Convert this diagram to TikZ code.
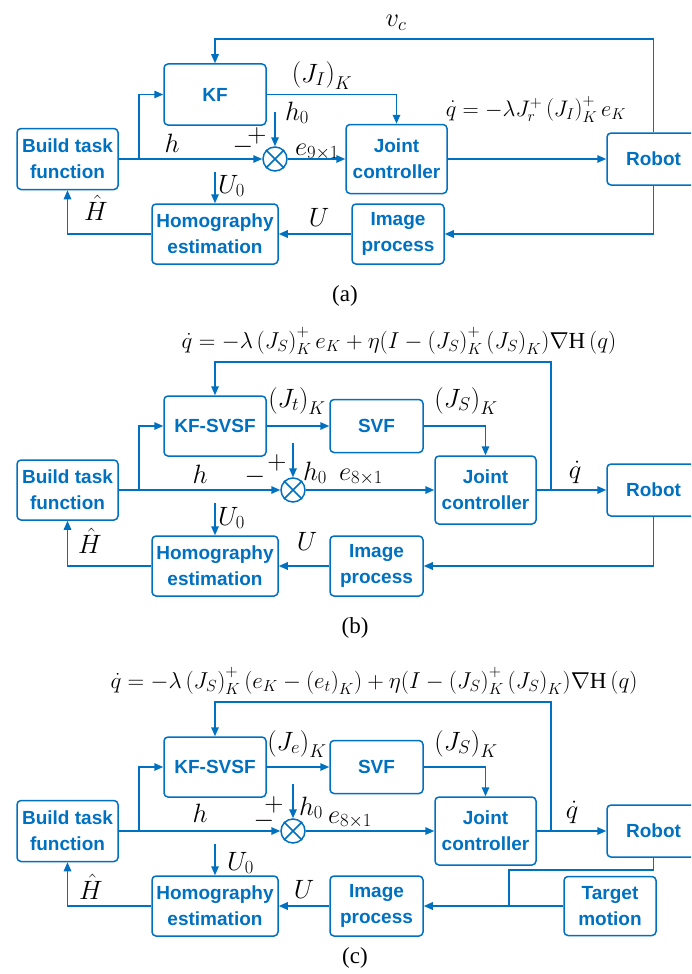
\RequirePackage{fix-cm}
\documentclass[tikz,border=0pt]{standalone}
\usepackage{fontspec}
\setmainfont{Liberation Serif}
\newfontfamily\boxfont{Liberation Sans}
\usetikzlibrary{arrows.meta}
\definecolor{myblue}{RGB}{0,112,192}
\tikzset{
  wire/.style={draw=myblue, line width=1.5pt},
  arr/.style={wire, -{Triangle[length=9pt,width=7.5pt]}},
  blk/.style={draw=myblue, line width=1.5pt, rounded corners=4pt, text=myblue,
    font=\boxfont\bfseries\fontsize{19}{26}\selectfont, align=center, inner sep=0pt},
  sumnode/.style={circle, draw=myblue, line width=1.5pt, minimum size=24pt, inner sep=0pt},
  lab/.style={inner sep=0pt, font=\fontsize{26.5}{30}\selectfont},
  formula/.style={inner sep=0pt, font=\fontsize{23}{26}\selectfont},
  formulaa/.style={inner sep=0pt, font=\fontsize{22.5}{26}\selectfont},
  captext/.style={inner sep=0pt, font=\fontsize{23}{26}\selectfont}
}
\begin{document}
\begin{tikzpicture}[x=1pt,y=-1pt]
\useasboundingbox (0,0) rectangle (691,974);
\clip (0,0) rectangle (691,974);
% ================= (a) =================
\node[blk, minimum width=101pt, minimum height=61pt] (aB) at (67.5,159) {Build task\\function};
\node[blk, minimum width=102pt, minimum height=61pt] (aKF) at (215,94.5) {KF};
\node[blk, minimum width=101pt, minimum height=69pt] (aJ) at (396.5,159) {Joint\\controller};
\node[blk, minimum width=93pt, minimum height=52pt] (aR) at (653.5,159) {Robot};
\node[blk, minimum width=126pt, minimum height=60pt] (aH) at (215,234) {Homography\\estimation};
\node[blk, minimum width=92pt, minimum height=60pt] (aI) at (398,234) {Image\\process};
\node[sumnode] (aS) at (275,159) {};
\draw[wire] (aS.north east) -- (aS.south west) (aS.north west) -- (aS.south east);
\coordinate (aBr) at (139,159);
\coordinate (aTop) at (653.5,39);
\coordinate (aH0s) at (275,112);
\coordinate (aU0s) at (215,172);
\draw[arr] (aB.east) -- (aS.west);
\draw[arr] (aBr) |- (aKF.west);
\draw[arr] (aKF.east) -| (aJ.north);
\draw[arr] (aS.east) -- (aJ.west);
\draw[arr] (aJ.east) -- (aR.west);
\draw[arr] (aR.north) -- (aTop) -| (aKF.north);
\draw[arr] (aR.south) |- (aI.east);
\draw[arr] (aI.west) -- (aH.east);
\draw[arr] (aH.west) -| (aB.south);
\draw[arr] (aH0s) -- (aS.north);
\draw[arr] (aU0s) -- (aH.north);
\node[lab, anchor=base] (aVc) at (396,27) {$v_c$};
\node[lab, anchor=base] (aJI) at (322,82) {$\left(J_I\right)_K$};
\node[lab, anchor=base] (aH0) at (297,120) {$h_0$};
\node[lab, anchor=center] (aPl) at (257,136) {$+$};
\node[lab, anchor=center] (aMi) at (243,147) {$-$};
\node[lab, anchor=base] (ah) at (172,152) {$h$};
\node[lab, anchor=base] (ae) at (317,155) {$e_{9\times 1}$};
\node[formulaa, anchor=base] (aF) at (536,116) {$\dot q=-\lambda J_r^{+}\left(J_I\right)_K^{+}e_K$};
\node[lab, anchor=base west] (aU0) at (218,193) {$U_0$};
\node[lab, anchor=base] (aHh) at (96,220) {$\hat H$};
\node[lab, anchor=base] (aU) at (319,226) {$U$};
\node[captext] (aCap) at (345,296) {(a)};
% ================= (b) =================
\node[blk, minimum width=101pt, minimum height=60pt] (bB) at (67.5,490) {Build task\\function};
\node[blk, minimum width=102pt, minimum height=60pt] (bKF) at (215,426) {KF-SVSF};
\node[blk, minimum width=93pt, minimum height=53pt] (bSVF) at (376.5,426) {SVF};
\node[blk, minimum width=101pt, minimum height=68pt] (bJ) at (485.5,490) {Joint\\controller};
\node[blk, minimum width=93pt, minimum height=52pt] (bR) at (653.5,490) {Robot};
\node[blk, minimum width=126pt, minimum height=60pt] (bH) at (215,566) {Homography\\estimation};
\node[blk, minimum width=93pt, minimum height=60pt] (bI) at (376.5,566) {Image\\process};
\node[sumnode] (bS) at (293,490) {};
\draw[wire] (bS.north east) -- (bS.south west) (bS.north west) -- (bS.south east);
\coordinate (bBr) at (139,490);
\coordinate (bBr2) at (551,490);
\coordinate (bTop) at (551,362);
\coordinate (bH0s) at (293,443);
\coordinate (bU0s) at (215,503);
\draw[arr] (bB.east) -- (bS.west);
\draw[arr] (bBr) |- (bKF.west);
\draw[arr] (bKF.east) -- (bSVF.west);
\draw[arr] (bSVF.east) -| (bJ.north);
\draw[arr] (bS.east) -- (bJ.west);
\draw[arr] (bJ.east) -- (bR.west);
\draw[arr] (bBr2) -- (bTop) -| (bKF.north);
\draw[arr] (bR.south) |- (bI.east);
\draw[arr] (bI.west) -- (bH.east);
\draw[arr] (bH.west) -| (bB.south);
\draw[arr] (bH0s) -- (bS.north);
\draw[arr] (bU0s) -- (bH.north);
\node[formula, anchor=base] (bF) at (399,348) {$\dot q=-\lambda\left(J_S\right)_K^{+}e_K+\eta(I-\left(J_S\right)_K^{+}\left(J_S\right)_K)\nabla\mathrm{H}\left(q\right)$};
\node[lab, anchor=base] (bJt) at (297,407) {$\left(J_t\right)_K$};
\node[lab, anchor=base] (bJS) at (466,407) {$\left(J_S\right)_K$};
\node[lab, anchor=base] (bqd) at (575,478) {$\dot q$};
\node[lab, anchor=base] (bh) at (200,483) {$h$};
\node[lab, anchor=center] (bMi) at (255,477) {$-$};
\node[lab, anchor=center] (bPl) at (277,463) {$+$};
\node[lab, anchor=base] (bH0) at (315,480) {$h_0$};
\node[lab, anchor=base] (be) at (361,480) {$e_{8\times 1}$};
\node[lab, anchor=base west] (bU0) at (218,525) {$U_0$};
\node[lab, anchor=base] (bHh) at (90,553) {$\hat H$};
\node[lab, anchor=base] (bU) at (307,550) {$U$};
\node[captext] (bCap) at (355,628) {(b)};
% ================= (c) =================
\node[blk, minimum width=101pt, minimum height=61pt] (cB) at (67.5,831) {Build task\\function};
\node[blk, minimum width=102pt, minimum height=60pt] (cKF) at (215,767) {KF-SVSF};
\node[blk, minimum width=93pt, minimum height=53pt] (cSVF) at (376.5,767) {SVF};
\node[blk, minimum width=101pt, minimum height=68pt] (cJ) at (485.5,831) {Joint\\controller};
\node[blk, minimum width=93pt, minimum height=52pt] (cR) at (653.5,831) {Robot};
\node[blk, minimum width=126pt, minimum height=60pt] (cH) at (215,906) {Homography\\estimation};
\node[blk, minimum width=93pt, minimum height=60pt] (cI) at (376.5,906) {Image\\process};
\node[blk, minimum width=92pt, minimum height=59pt] (cT) at (610,906) {Target\\motion};
\node[sumnode] (cS) at (293,831) {};
\draw[wire] (cS.north east) -- (cS.south west) (cS.north west) -- (cS.south east);
\coordinate (cBr) at (139,831);
\coordinate (cBr2) at (551,831);
\coordinate (cTop) at (551,702);
\coordinate (cH0s) at (293,784);
\coordinate (cU0s) at (215,844);
\coordinate (cRb) at (509,870);
\coordinate (cJn) at (509,906);
\draw[arr] (cB.east) -- (cS.west);
\draw[arr] (cBr) |- (cKF.west);
\draw[arr] (cKF.east) -- (cSVF.west);
\draw[arr] (cSVF.east) -| (cJ.north);
\draw[arr] (cS.east) -- (cJ.west);
\draw[arr] (cJ.east) -- (cR.west);
\draw[arr] (cBr2) -- (cTop) -| (cKF.north);
\draw[arr] (cR.south) |- (cRb) -- (cJn) -- (cI.east);
\draw[wire] (cT.west) -- (cJn);
\draw[arr] (cI.west) -- (cH.east);
\draw[arr] (cH.west) -| (cB.south);
\draw[arr] (cH0s) -- (cS.north);
\draw[arr] (cU0s) -- (cH.north);
\node[formula, anchor=base] (cF) at (374,688) {$\dot q=-\lambda\left(J_S\right)_K^{+}\left(e_K-\left(e_t\right)_K\right)+\eta(I-\left(J_S\right)_K^{+}\left(J_S\right)_K)\nabla\mathrm{H}\left(q\right)$};
\node[lab, anchor=base] (cJe) at (297,750) {$\left(J_e\right)_K$};
\node[lab, anchor=base] (cJS) at (466,750) {$\left(J_S\right)_K$};
\node[lab, anchor=base] (cqd) at (572,818) {$\dot q$};
\node[lab, anchor=base] (ch) at (200,822) {$h$};
\node[lab, anchor=center] (cMi) at (264,821) {$-$};
\node[lab, anchor=center] (cPl) at (274,805) {$+$};
\node[lab, anchor=base] (cH0) at (311,815) {$h_0$};
\node[lab, anchor=base] (ce) at (350,823) {$e_{8\times 1}$};
\node[lab, anchor=base west] (cU0) at (227,870) {$U_0$};
\node[lab, anchor=base] (cHh) at (91,899) {$\hat H$};
\node[lab, anchor=base] (cU) at (304,898) {$U$};
\node[captext] (cCap) at (355,958) {(c)};
\end{tikzpicture}
\end{document}
